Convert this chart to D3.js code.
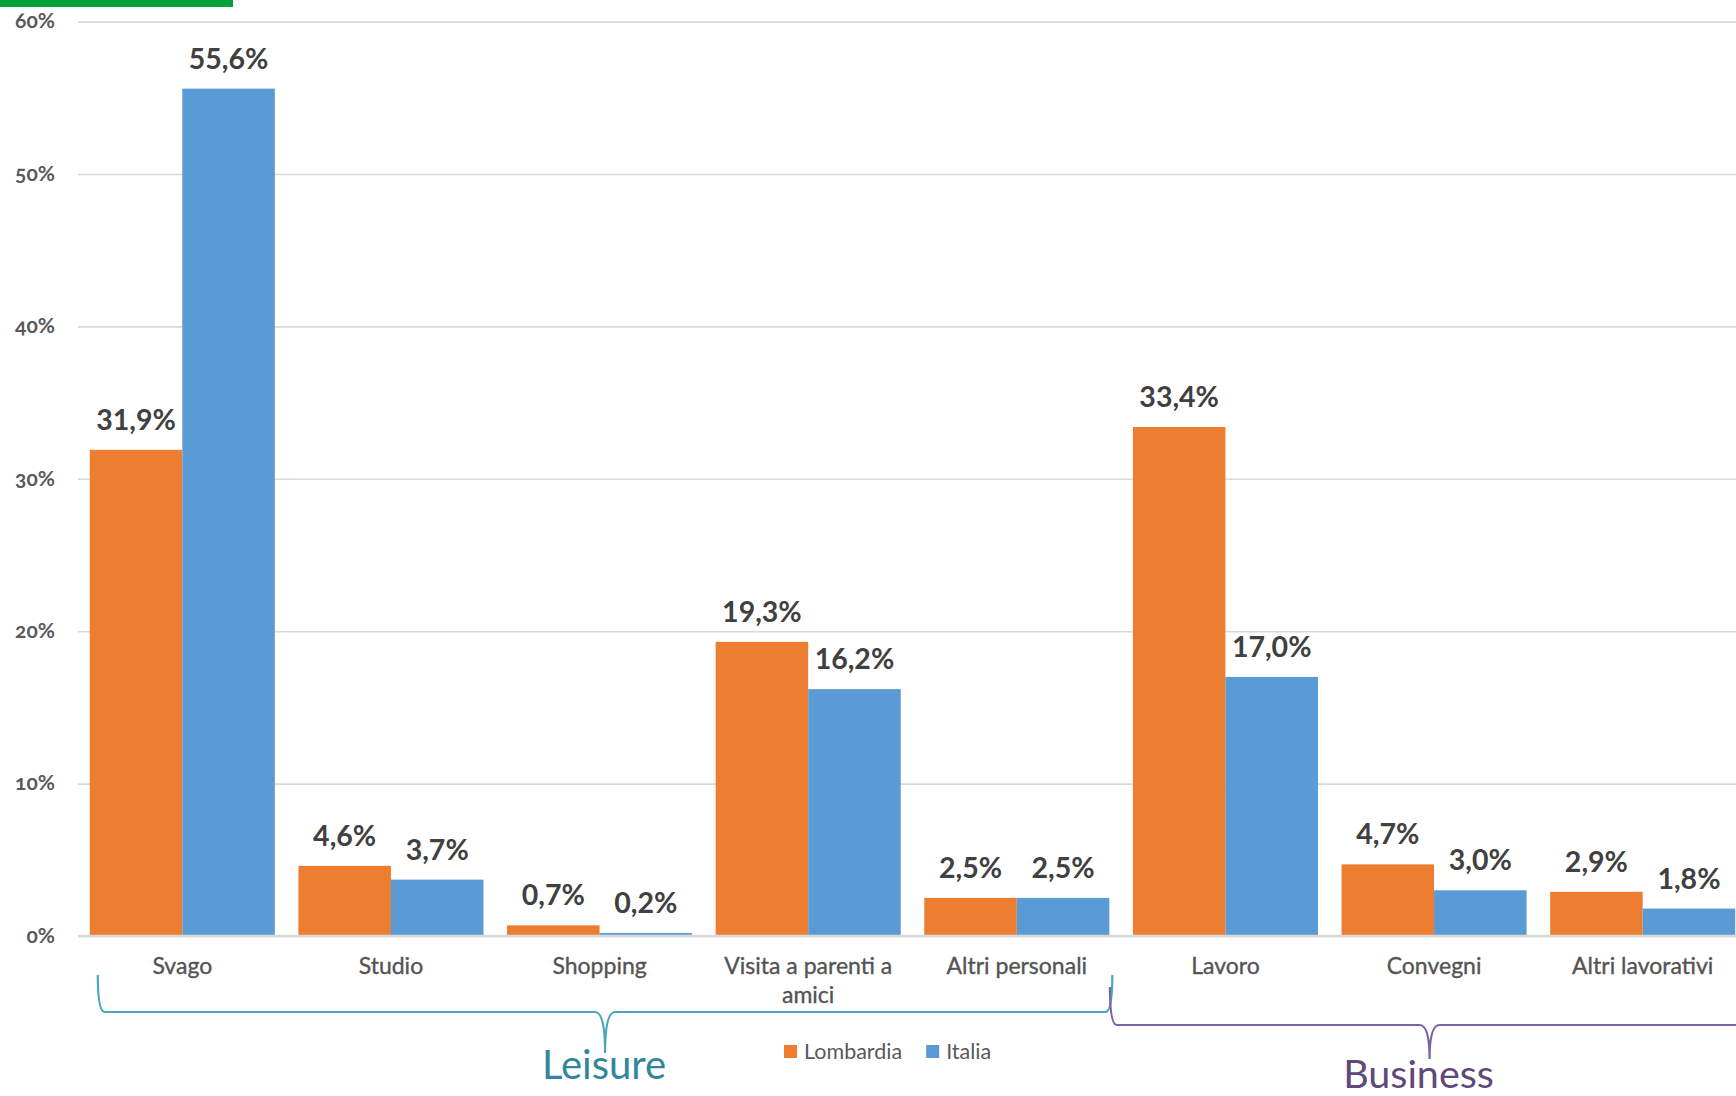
<!DOCTYPE html>
<html>
<head>
<meta charset="utf-8">
<script src="https://cdn.jsdelivr.net/npm/d3@7"></script>
<style>
  html, body { margin: 0; padding: 0; background: #ffffff; }
  svg { display: block; }
  text { font-family: Lato, "Open Sans", sans-serif; }
</style>
</head>
<body>
<svg id="chart" width="1736" height="1096"></svg>
<script>
// Motivo del viaggio: quota percentuale, Lombardia vs Italia
const categories = ["Svago", "Studio", "Shopping", "Visita a parenti a amici", "Altri personali",
                    "Lavoro", "Convegni", "Altri lavorativi"];
const seriesNames = ["Lombardia", "Italia"];
const lombardia = [31.9, 4.6, 0.7, 19.3, 2.5, 33.4, 4.7, 2.9];
const italia    = [55.6, 3.7, 0.2, 16.2, 2.5, 17.0, 3.0, 1.8];
const yTicks = [0, 10, 20, 30, 40, 50, 60];
const groupNames = ["Leisure", "Business"];
const groupFirst = ["Svago", "Lavoro"];
const groupLast  = ["Altri personali", "Altri lavorativi"];

const colors = { Lombardia: "#ed7d31", Italia: "#5b9bd5" };
const braceColors = ["#4aa6bf", "#7b62a0"];
const groupTextColors = ["#31859c", "#5f497a"];

const W = 1736, H = 1096;
const plotLeft = 78, plotRight = 1747, plotTop = 21.6, plotBottom = 936;

const svg = d3.select("#chart");

// accent strip at the top-left corner
svg.append("rect").attr("x", 0).attr("y", 0).attr("width", 233).attr("height", 7).attr("fill", "#00a13a");

const x = d3.scaleBand().domain(categories).range([plotLeft, plotRight]).paddingInner(0.113).paddingOuter(0.0565);
const xs = d3.scaleBand().domain(seriesNames).range([0, x.bandwidth()]);
const y = d3.scaleLinear().domain([0, 60]).range([plotBottom, plotTop]);

const it = d3.formatLocale({ decimal: ",", thousands: ".", grouping: [3], currency: ["€", ""] });
const fmt1 = it.format(".1f");

// gridlines + y labels
const yAxis = svg.append("g")
  .attr("transform", `translate(${plotLeft},0)`)
  .call(d3.axisLeft(y).tickValues(yTicks).tickFormat(d => d + "%")
        .tickSize(-(W - plotLeft)).tickPadding(23));
yAxis.select(".domain").remove();
yAxis.selectAll(".tick line").attr("stroke", "#d9d9d9").attr("stroke-width", 1.6);
yAxis.selectAll(".tick text")
  .attr("fill", "#595959")
  .attr("font-size", 21)
  .attr("font-weight", 700)
  .style("font-variant-numeric", "oldstyle-nums")
  .style("font-feature-settings", "'onum' 1")
  .attr("dy", "0.3em");

// bars
const rows = categories.map((c, i) => ({ cat: c, vals: [
  { s: "Lombardia", v: lombardia[i] }, { s: "Italia", v: italia[i] } ] }));

const groups = svg.append("g").selectAll("g").data(rows).join("g")
  .attr("transform", d => `translate(${x(d.cat)},0)`);

groups.selectAll("rect").data(d => d.vals).join("rect")
  .attr("x", d => xs(d.s))
  .attr("y", d => y(d.v))
  .attr("width", xs.bandwidth())
  .attr("height", d => y(0) - y(d.v))
  .attr("fill", d => colors[d.s]);

groups.selectAll("text.val").data(d => d.vals).join("text")
  .attr("class", "val")
  .attr("x", d => xs(d.s) + xs.bandwidth() / 2)
  .attr("y", d => y(d.v) - 20)
  .attr("text-anchor", "middle")
  .attr("font-size", 28.5)
  .attr("font-weight", 700)
  .attr("fill", "#404040")
  .text(d => fmt1(d.v) + "%");

// category axis
const xAxis = svg.append("g")
  .attr("transform", `translate(0,${plotBottom})`)
  .call(d3.axisBottom(x).tickSize(0).tickPadding(38));
xAxis.select(".domain").attr("stroke", "#d9d9d9").attr("stroke-width", 2.5)
  .attr("d", `M${plotLeft},0H${W}`);
xAxis.selectAll(".tick text")
  .attr("fill", "#545454")
  .attr("stroke", "#545454")
  .attr("stroke-width", 0.35)
  .attr("font-size", 23)
  .attr("dy", 0)
  .call(wrap, x.step() - 8);

function wrap(sel, width) {
  sel.each(function () {
    const t = d3.select(this);
    const words = t.text().split(/\s+/);
    const yAttr = t.attr("y");
    t.text(null);
    let line = [];
    let tspan = t.append("tspan").attr("x", 0).attr("y", yAttr);
    let lineNo = 0;
    for (const w of words) {
      line.push(w);
      tspan.text(line.join(" "));
      if (tspan.node().getComputedTextLength() > width && line.length > 1) {
        line.pop();
        tspan.text(line.join(" "));
        line = [w];
        lineNo++;
        tspan = t.append("tspan").attr("x", 0).attr("y", yAttr).attr("dy", lineNo * 29).text(w);
      }
    }
  });
}

// group braces under the category labels
function bracePath(x0, x1, yTop, yLine, yTip, xm) {
  const r = 7, k = 10;
  return `M${x0},${yTop}` +
    `Q${x0},${yLine} ${x0 + r},${yLine}` +
    `L${xm - k},${yLine}` +
    `Q${xm},${yLine} ${xm},${yTip}` +
    `Q${xm},${yLine} ${xm + k},${yLine}` +
    `L${x1 - r},${yLine}` +
    `Q${x1},${yLine} ${x1},${yTop}`;
}

const braceSpecs = [
  { x0: x(groupFirst[0]) + 8, x1: x(groupLast[0]) + x.bandwidth() + 3, yTop: 975, yLine: 1012, yTip: 1053, textY: 1079, textDx: -1, size: 40 },
  { x0: x(groupFirst[1]) - 23, x1: x(groupLast[1]) + x.bandwidth() + 14, yTop: 987, yLine: 1025, yTip: 1059, textY: 1088, textDx: -11, size: 39.5 }
];

braceSpecs.forEach((b, i) => {
  const xm = (b.x0 + b.x1) / 2;
  svg.append("path")
    .attr("d", bracePath(b.x0, b.x1, b.yTop, b.yLine, b.yTip, xm))
    .attr("fill", "none")
    .attr("stroke", braceColors[i])
    .attr("stroke-width", 2.2);
  svg.append("text")
    .attr("x", xm + b.textDx)
    .attr("y", b.textY)
    .attr("text-anchor", "middle")
    .attr("font-size", b.size)
    .attr("fill", groupTextColors[i])
    .text(groupNames[i]);
});

// legend
const legend = svg.append("g").attr("transform", "translate(784,1045)");
let lx = 0;
seriesNames.forEach(s => {
  legend.append("rect").attr("x", lx).attr("y", 0).attr("width", 13).attr("height", 13).attr("fill", colors[s]);
  const t = legend.append("text").attr("x", lx + 20).attr("y", 13.5)
    .attr("font-size", 21.5).attr("fill", "#595959").text(s);
  lx += 20 + t.node().getComputedTextLength() + 24;
});
</script>
</body>
</html>
